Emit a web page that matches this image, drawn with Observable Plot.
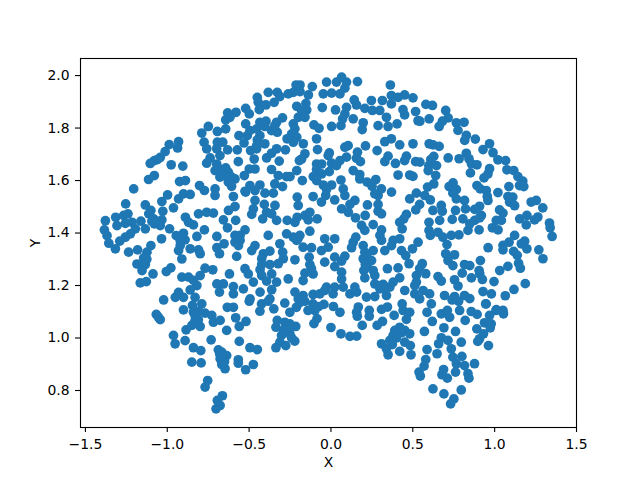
<!DOCTYPE html>
<html><head><meta charset="utf-8">
<script src="https://cdn.jsdelivr.net/npm/d3@7"></script>
<script src="https://cdn.jsdelivr.net/npm/@observablehq/plot@0.6"></script>
<style>html,body{margin:0;padding:0;background:#fff}svg{display:block}</style>
</head><body><div id="chart"></div>
<script>
const farLeft=[[-1.079,1.619],[-1.114,1.604],[-1.205,1.568],[-.925,1.596],[-.889,1.6],[-.803,1.581],[-.773,1.562],[-.998,1.545],[-.901,1.549],[-.86,1.547],[-.931,1.53],[-1.033,1.52],[-1.254,1.511],[-1.134,1.507],[-1.1,1.486],[-.962,1.496],[-1.027,1.483],[-1.24,1.473],[-.809,1.473],[-.759,1.479],[-.889,1.46],[-1.378,1.447],[-1.315,1.46],[-1.266,1.467],[-1.256,1.437],[-1.215,1.441],[-1.161,1.445],[-1.083,1.454],[-1.033,1.45],[-.87,1.441],[-.84,1.431],[-1.384,1.412],[-1.307,1.428],[-1.195,1.416],[-1.134,1.416],[-1.079,1.435],[-1.043,1.428],[-.986,1.416],[-.773,1.412],[-1.368,1.39],[-1.225,1.397],[-1.256,1.384],[-.945,1.39],[-.901,1.399],[-1.357,1.361],[-1.29,1.369],[-1.317,1.34],[-1.035,1.378],[-.891,1.374],[-.819,1.387],[-1.1,1.352],[-1.181,1.336],[-.921,1.352],[-.931,1.333],[-1.236,1.327],[-1.124,1.327],[-.86,1.34],[-.809,1.336],[-.799,1.321],[-.911,1.301],[-1.144,1.305],[-1.185,1.282],[-1.134,1.28],[-.978,1.267],[-1.006,1.253],[-1.154,1.257],[-.769,1.266],[-1.087,1.244],[-.911,1.232],[-.87,1.232],[-.799,1.238],[-1.165,1.21],[-1.128,1.215],[-.819,1.2],[-.86,1.183],[-.931,1.174],[-1.022,1.145],[-.951,1.155],[-.83,1.155],[-.901,1.155],[-1.113,1.473],[-1.094,1.445],[-1.053,1.441],[-.921,1.371],[-1.125,1.3],[-.84,1.22],[-1.067,1.09],[-1.043,1.07],[-1.055,1.08],[-1.06,1.68],[-1.079,1.676],[-1.104,1.665],[-1.043,1.688],[-1.07,1.445]];
const upperLeft=[[-.383,1.936],[-.328,1.936],[-.312,1.92],[-.45,1.917],[-.347,1.898],[-.261,1.93],[-.444,1.898],[-.397,1.888],[-.438,1.87],[-.521,1.875],[-.499,1.854],[-.58,1.86],[-.631,1.858],[-.643,1.831],[-.617,1.841],[-.296,1.839],[-.332,1.822],[-.749,1.806],[-.789,1.781],[-.694,1.787],[-.643,1.797],[-.521,1.816],[-.434,1.822],[-.397,1.826],[-.404,1.806],[-.363,1.79],[-.328,1.784],[-.343,1.809],[-.495,1.79],[-.454,1.797],[-.562,1.771],[-.511,1.771],[-.434,1.771],[-.45,1.755],[-.531,1.743],[-.454,1.733],[-.404,1.74],[-.268,1.759],[-.931,1.748],[-.988,1.737],[-.937,1.724],[-.775,1.746],[-.694,1.746],[-.661,1.746],[-.759,1.721],[-.698,1.721],[-.631,1.717],[-.572,1.717],[-1.013,1.71],[-.491,1.714],[-.454,1.721],[-.332,1.721],[-.278,1.717],[-.363,1.704],[-.678,1.695],[-.393,1.686],[-.469,1.682],[-.316,1.674],[-.738,1.686],[-.759,1.666],[-.566,1.672],[-.698,1.663],[-.976,1.66],[-.905,1.655],[-.708,1.638],[-.682,1.644],[-.643,1.648],[-.464,1.644],[-.499,1.644],[-.363,1.642],[-.627,1.632],[-.678,1.613],[-.607,1.613],[-.529,1.619],[-.322,1.619],[-.272,1.615],[-.627,1.594],[-.586,1.606],[-.607,1.578],[-.343,1.587],[-.296,1.577],[-.495,1.581],[-.434,1.583],[-.525,1.559],[-.464,1.562],[-.708,1.568],[-.65,1.62],[-.63,1.61]];
const upperMiddle=[[-.027,1.975],[.065,1.994],[.034,1.975],[.095,1.975],[.162,1.977],[-.189,1.964],[-.213,1.964],[-.114,1.958],[.363,1.964],[-.23,1.936],[-.189,1.939],[-.047,1.93],[.004,1.933],[.055,1.93],[-.138,1.926],[.085,1.952],[.369,1.924],[.45,1.926],[.501,1.915],[.41,1.917],[.142,1.907],[.247,1.905],[.314,1.905],[-.209,1.883],[-.153,1.894],[-.053,1.878],[.028,1.869],[.095,1.879],[.156,1.888],[.207,1.875],[.369,1.892],[-.148,1.869],[-.179,1.867],[.253,1.867],[.298,1.867],[.44,1.87],[.517,1.863],[.085,1.854],[-.199,1.841],[-.159,1.841],[.136,1.835],[.071,1.835],[.339,1.841],[.45,1.85],[.532,1.828],[-.23,1.816],[-.104,1.812],[-.073,1.799],[.197,1.82],[.004,1.806],[.061,1.809],[.191,1.794],[.288,1.809],[.349,1.806],[.404,1.816],[-.22,1.797],[-.24,1.778],[-.209,1.765],[-.088,1.759],[.369,1.759],[.329,1.748],[-.169,1.74],[-.23,1.746],[.105,1.733],[.085,1.727],[.211,1.732],[.42,1.736],[.501,1.74],[-.082,1.718],[.282,1.714],[-.01,1.705],[.162,1.708],[-.159,1.702],[-.017,1.695],[.349,1.693],[-.179,1.682],[.156,1.685],[.095,1.689],[.055,1.676],[.461,1.693],[.45,1.676],[.329,1.672],[.517,1.672],[.18,1.672],[-.193,1.676],[.004,1.666],[-.088,1.663],[-.057,1.663],[.394,1.665],[.034,1.657],[-.01,1.634],[-.088,1.642],[-.057,1.625],[-.209,1.638],[.136,1.638],[.41,1.621],[.481,1.621],[.501,1.616],[.176,1.623],[-.108,1.615],[-.25,1.615],[-.175,1.6],[-.088,1.6],[.176,1.606],[.061,1.602],[.221,1.594],[.274,1.604],[-.047,1.583],[.004,1.583],[.251,1.578],[.075,1.568],[.308,1.568],[-.027,1.566]];
const upperRight=[[.58,1.89],[.62,1.886],[.701,1.867],[.716,1.839],[.6,1.835],[.543,1.826],[.681,1.826],[.661,1.806],[.766,1.82],[.813,1.822],[.776,1.791],[.827,1.772],[.817,1.753],[.882,1.758],[.6,1.74],[.624,1.736],[.661,1.73],[.969,1.74],[.929,1.718],[.99,1.706],[.827,1.704],[.628,1.692],[.716,1.686],[.783,1.683],[.843,1.683],[1.02,1.679],[1.067,1.676],[.61,1.68],[.543,1.67],[.645,1.657],[.598,1.657],[.594,1.638],[.858,1.664],[.892,1.66],[.852,1.629],[.969,1.645],[1.075,1.641],[1.117,1.638],[.959,1.625],[.64,1.619],[.935,1.61],[1.142,1.615],[.628,1.587],[.746,1.591],[1.172,1.598],[1.152,1.581],[.59,1.575],[.722,1.577],[.892,1.581],[1.087,1.577],[1.178,1.577],[.766,1.566],[.912,1.568],[.949,1.562],[1.02,1.554],[.955,1.539],[1.081,1.539],[1.111,1.537],[.959,1.524],[1.223,1.518],[1.254,1.524],[1.091,1.518],[1.122,1.504],[.908,1.502],[.878,1.49],[1.03,1.488],[1.294,1.496]];
const farRight=[[.919,1.467],[.878,1.448],[.909,1.458],[.848,1.435],[1.051,1.476],[1.01,1.448],[1.041,1.448],[1.153,1.454],[1.197,1.467],[1.264,1.461],[1.244,1.45],[1.193,1.431],[1.335,1.438],[1.339,1.42],[1.351,1.387],[.905,1.412],[.986,1.42],[1.021,1.412],[1.122,1.391],[1.088,1.365],[1.183,1.369],[.96,1.344],[1.051,1.353],[1.051,1.336],[1.163,1.359],[1.197,1.34],[1.27,1.336],[1.116,1.33],[1.138,1.315],[1.295,1.302],[.913,1.295],[1.146,1.285],[.848,1.276],[1.081,1.273],[1.157,1.266],[1.031,1.257],[.905,1.257],[.909,1.245],[.858,1.229],[.925,1.223],[.996,1.215],[1.187,1.207],[1.118,1.185],[.929,1.177],[.98,1.168],[1.065,1.161],[.848,1.15],[.945,1.13],[1.01,1.108],[1.051,1.105]];
const centerRight=[[.085,1.543],[.146,1.524],[.116,1.509],[.065,1.492],[.106,1.479],[.15,1.458],[.223,1.507],[.288,1.543],[.268,1.549],[.288,1.509],[.288,1.483],[.309,1.473],[.209,1.467],[.37,1.556],[.481,1.53],[.522,1.552],[.573,1.543],[.607,1.526],[.542,1.509],[.518,1.488],[.766,1.53],[.816,1.524],[.745,1.552],[.674,1.505],[.623,1.486],[.68,1.483],[.761,1.486],[.822,1.492],[.741,1.452],[.806,1.454],[.461,1.471],[.445,1.454],[.42,1.441],[.599,1.441],[.664,1.448],[.258,1.432],[.187,1.429],[.207,1.41],[.435,1.416],[.309,1.412],[.599,1.41],[.607,1.391],[.654,1.403],[.837,1.41],[.735,1.391],[.782,1.393],[.684,1.384],[.299,1.391],[.152,1.384],[.136,1.365],[.42,1.378],[.38,1.372],[.309,1.372],[.532,1.365],[.709,1.356],[.126,1.344],[.197,1.352],[.329,1.333],[.498,1.34],[.37,1.352],[.431,1.333],[.258,1.333],[.207,1.327],[.457,1.314],[.701,1.321],[.085,1.312],[.755,1.317],[.065,1.293],[.197,1.302],[.248,1.295],[.715,1.295],[.477,1.283],[.558,1.283],[.745,1.276],[.217,1.27],[.345,1.264],[.41,1.267],[.542,1.264],[.816,1.28],[.258,1.257],[.201,1.257],[.802,1.247],[.065,1.251],[.522,1.238],[.579,1.245],[.654,1.234],[.268,1.238],[.755,1.222],[.207,1.229],[.42,1.229],[.674,1.217],[.38,1.213],[.522,1.213],[.065,1.225],[.776,1.198],[.268,1.206],[.319,1.204],[.36,1.194],[.075,1.194],[.451,1.181],[.512,1.2],[.146,1.194],[.563,1.181],[.299,1.187],[.116,1.168],[.157,1.175],[.339,1.162],[.512,1.168],[.603,1.168],[.694,1.162],[.755,1.158],[.816,1.162],[.217,1.156],[.268,1.158],[.542,1.149],[.22,1.31],[.23,1.29],[.21,1.28],[.3,1.2],[.33,1.19],[.74,1.145],[.78,1.14]];
const lowerRight=[[.167,1.118],[.157,1.098],[.161,1.083],[.234,1.105],[.234,1.083],[.309,1.109],[.345,1.118],[.435,1.13],[.441,1.105],[.481,1.098],[.587,1.098],[.613,1.13],[.674,1.092],[.711,1.105],[.725,1.079],[.786,1.105],[.857,1.101],[.893,1.09],[.948,1.13],[1.009,1.105],[1.054,1.092],[.969,1.086],[.386,1.086],[.461,1.071],[.619,1.063],[.82,1.067],[.938,1.058],[.979,1.054],[.055,1.098],[.191,1.048],[.315,1.063],[.282,1.048],[.42,1.041],[.39,1.029],[.451,1.029],[.69,1.039],[.571,1.025],[.761,1.025],[.891,1.035],[.973,1.039],[.061,1.016],[.116,1.006],[.157,1.007],[.38,1.01],[.481,1.016],[.932,1.016],[.674,1.001],[.908,.997],[.36,.991],[.309,.978],[.451,.984],[.796,.984],[.897,.987],[.715,.991],[.658,.978],[.485,.971],[.962,.971],[.339,.959],[.587,.956],[.735,.959],[.42,.949],[.648,.94],[.349,.936],[.489,.936],[.8,.93],[.579,.918],[.745,.927],[.766,.902],[.816,.895],[.877,.902],[.569,.893],[.688,.88],[.761,.87],[.538,.87],[.837,.864],[.546,.855],[.678,.86],[.711,.847],[.843,.847],[.623,.806],[.796,.802],[.69,.787],[.751,.768],[.731,.749],[-.043,1.128],[-.098,1.105],[-.14,1.105],[-.085,1.074],[-.104,1.055],[-.075,1.12],[-.11,1.13],[-.16,1.14],[0,1.04],[.015,1.12],[-.19,1.135],[.4,1],[.43,1.02],[.375,.975]];
const centerLeft=[[-.708,1.543],[-.596,1.539],[-.521,1.556],[-.403,1.552],[-.352,1.552],[-.206,1.537],[-.2,1.505],[-.109,1.539],[-.058,1.518],[-.032,1.543],[.023,1.526],[-.464,1.524],[-.474,1.492],[-.484,1.471],[-.407,1.509],[-.342,1.505],[-.586,1.501],[-.626,1.486],[-.718,1.476],[-.657,1.45],[-.582,1.448],[-.393,1.479],[-.417,1.454],[-.362,1.473],[-.332,1.448],[-.267,1.448],[-.206,1.46],[-.159,1.467],[-.129,1.479],[-.084,1.454],[-.139,1.45],[-.22,1.441],[-.632,1.42],[-.525,1.412],[-.383,1.391],[-.129,1.407],[-.271,1.397],[-.697,1.387],[-.586,1.391],[-.555,1.391],[-.23,1.384],[-.19,1.391],[-.038,1.378],[.023,1.378],[-.653,1.359],[-.586,1.365],[-.555,1.372],[-.21,1.372],[-.464,1.352],[-.565,1.352],[-.312,1.359],[-.17,1.346],[-.119,1.344],[-.697,1.344],[-.484,1.333],[-.058,1.333],[-.017,1.346],[-.373,1.331],[-.681,1.321],[-.413,1.321],[-.295,1.327],[-.576,1.311],[-.423,1.302],[-.291,1.302],[-.133,1.308],[-.22,1.298],[.023,1.308],[-.423,1.28],[-.373,1.28],[-.322,1.283],[-.129,1.28],[-.038,1.289],[-.525,1.264],[.023,1.272],[-.722,1.26],[-.433,1.26],[-.119,1.264],[-.505,1.244],[-.159,1.247],[-.62,1.244],[-.423,1.238],[-.362,1.244],[-.109,1.244],[-.261,1.225],[-.17,1.219],[-.474,1.213],[-.393,1.217],[-.332,1.213],[-.697,1.206],[-.657,1.206],[-.596,1.196],[-.535,1.187],[-.362,1.184],[-.681,1.175],[-.596,1.168],[-.433,1.175],[-.22,1.175],[-.027,1.194],[.023,1.194],[-.17,1.162],[-.109,1.166],[-.068,1.168],[.013,1.168],[-.038,1.181],[-.494,1.149],[-.2,1.149],[-.373,1.149],[-.2,1.38]];
const lowerLeft=[[-.901,1.107],[-.846,1.124],[-.789,1.13],[-.633,1.117],[-.596,1.117],[-.499,1.14],[-.434,1.102],[-.424,1.13],[-.383,1.14],[-.349,1.111],[-.282,1.133],[-.251,1.098],[-.211,1.117],[-.84,1.098],[-.809,1.102],[-.769,1.095],[-.728,1.086],[-.718,1.06],[-.677,1.067],[-.582,1.077],[-.519,1.063],[-.56,1.044],[-.83,1.067],[-.85,1.048],[-.799,1.044],[-.885,1.031],[-.637,1.029],[-.336,1.041],[-.328,1.067],[-.282,1.06],[-.251,1.054],[-.215,1.044],[-.267,1.029],[-.962,1.01],[-.302,1.01],[-.251,1.016],[-.891,.99],[-.732,.993],[-.56,.987],[-.952,.978],[-.312,.984],[-.276,.971],[-.221,.988],[-.84,.963],[-.495,.963],[-.45,.956],[-.336,.963],[-.795,.952],[-.688,.955],[-.667,.946],[-.637,.933],[-.677,.921],[-.566,.917],[-.566,.904],[-.85,.908],[-.793,.905],[-.667,.899],[-.474,.899],[-.647,.883],[-.521,.879],[-.753,.838],[-.769,.813],[-.663,.78],[-.694,.762],[-.677,.743],[-.702,.73],[-.26,1.04],[-.29,1.03],[-.24,1],[-.83,1.085],[-.81,1.07],[-.66,.925],[-.65,.91],[-.68,.94]];
const xTicks=[-1.5,-1,-.5,0,.5,1,1.5];
const yTicks=[.8,1,1.2,1.4,1.6,1.8,2];
const points=[...farLeft,...upperLeft,...upperMiddle,...upperRight,...farRight,...centerRight,...lowerRight,...centerLeft,...lowerLeft];
const fmt=d3.format(".1f");
const chart=Plot.plot({
  width:640,height:480,marginLeft:80,marginRight:64,marginTop:58,marginBottom:53,
  style:{fontFamily:"DejaVu Sans",fontSize:"13.9px",background:"#fff",color:"#000"},
  x:{domain:[-1.53,1.5]},
  y:{domain:[.659,2.065]},
  marks:[
    Plot.dot(points,{x:d=>d[0],y:d=>d[1],r:4.86,fill:"#1f77b4",stroke:"none",clip:true}),
    Plot.frame({stroke:"#000",strokeWidth:1.1,strokeOpacity:1}),
    Plot.axisX({ticks:xTicks,tickFormat:fmt,tickSize:5,tickPadding:7,fontSize:13.9,label:"X",labelAnchor:"center",labelOffset:39,labelArrow:"none",strokeOpacity:1,strokeWidth:1.1}),
    Plot.axisY({ticks:yTicks,tickFormat:fmt,tickSize:5,tickPadding:6,fontSize:13.9,label:"Y",labelAnchor:"center",labelOffset:50,labelArrow:"none",strokeOpacity:1,strokeWidth:1.1})
  ]
});
document.getElementById("chart").appendChild(chart);
</script></body></html>
